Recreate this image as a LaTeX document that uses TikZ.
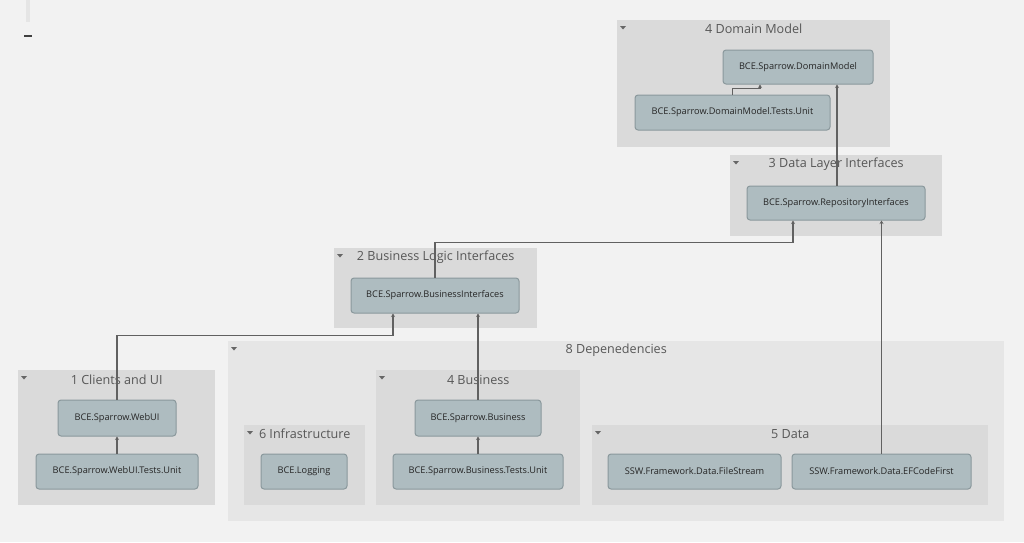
\documentclass[tikz,border=0pt]{standalone}
\usepackage{fontspec}
\setmainfont{Open Sans}
\usetikzlibrary{arrows.meta}
\definecolor{page}{HTML}{F2F2F2}
\definecolor{grpfill}{HTML}{DADADA}
\definecolor{outerfill}{HTML}{E6E6E6}
\definecolor{modfill}{HTML}{AEBCC0}
\definecolor{modline}{HTML}{8A989C}
\begin{document}
\begin{tikzpicture}[x=1pt,y=-1pt,
  grp/.style={fill=grpfill,anchor=north west,inner sep=0pt},
  outer/.style={fill=outerfill,anchor=north west,inner sep=0pt},
  title/.style={text=black!66,font=\fontsize{12.6}{14}\selectfont,inner sep=0pt},
  mod/.style={draw=modline,fill=modfill,rounded corners=3pt,line width=1pt,
    minimum height=35,inner sep=0pt,text=black!85,font=\fontsize{9.2}{11}\selectfont},
  dep/.style={draw=black!62,line width=1.1pt,-{Stealth[length=3.5pt,width=4pt]}}]
  \useasboundingbox[fill=page] (0,0) rectangle (1024,542);
  \fill[black!10] (26,0) rectangle (30,22);
  \fill[black!75] (24,35) rectangle (32,37);
  \node[outer,minimum width=776,minimum height=180] (gDeps) at (228,341) {};
  \node[grp,minimum width=273,minimum height=127] (gDomain) at (617,20) {};
  \node[grp,minimum width=212,minimum height=81] (gDataIf) at (730,155) {};
  \node[grp,minimum width=203,minimum height=80] (gBusIf) at (334,248) {};
  \node[grp,minimum width=197,minimum height=135] (gClients) at (18,370) {};
  \node[grp,minimum width=204,minimum height=135] (gBusiness) at (376,370) {};
  \node[grp,minimum width=121,minimum height=80] (gInfra) at (244,425) {};
  \node[grp,minimum width=396,minimum height=80] (gData) at (592,425) {};
  \foreach \g in {gDeps,gDomain,gDataIf,gBusIf,gClients,gBusiness,gInfra,gData}
    \fill[black!60] ([shift={(3,6)}]\g.north west) -- ++(6,0) -- ++(-3,3.5) -- cycle;
  \node[title] at ([yshift=-9]gDomain.north) {4 Domain Model};
  \node[title] at ([yshift=-9]gDataIf.north) {3 Data Layer Interfaces};
  \node[title] at ([yshift=-9]gBusIf.north) {2 Business Logic Interfaces};
  \node[title] at ([yshift=-9]gDeps.north) {8 Depenedencies};
  \node[title] at ([yshift=-10]gClients.north) {1 Clients and UI};
  \node[title] at ([yshift=-10]gBusiness.north) {4 Business};
  \node[title] at ([yshift=-9]gInfra.north) {6 Infrastructure};
  \node[title] at ([yshift=-9]gData.north) {5 Data};
  \node[mod,minimum width=150,minimum height=34] (dm) at (798,67) {BCE.Sparrow.DomainModel};
  \node[mod,minimum width=195] (dmt) at (732.5,112.5) {BCE.Sparrow.DomainModel.Tests.Unit};
  \node[mod,minimum width=178,minimum height=34] (repo) at (836,203) {BCE.Sparrow.RepositoryInterfaces};
  \node[mod,minimum width=168] (bi) at (435,295.5) {BCE.Sparrow.BusinessInterfaces};
  \node[mod,minimum width=118,minimum height=36] (web) at (117,418) {BCE.Sparrow.WebUI};
  \node[mod,minimum width=162] (webt) at (117,471.5) {BCE.Sparrow.WebUI.Tests.Unit};
  \node[mod,minimum width=126,minimum height=36] (bus) at (478,418) {BCE.Sparrow.Business};
  \node[mod,minimum width=170] (bust) at (478,471.5) {BCE.Sparrow.Business.Tests.Unit};
  \node[mod,minimum width=86] (log) at (304,471.5) {BCE.Logging};
  \node[mod,minimum width=173] (fs) at (694.5,471.5) {SSW.Framework.Data.FileStream};
  \node[mod,minimum width=179] (ef) at (881.5,471.5) {SSW.Framework.Data.EFCodeFirst};
  \draw[dep] (dmt.north) -- ++(0,-6) -| ([xshift=-38]dm.south);
  \draw[dep] ([xshift=1]repo.north) -- ([xshift=1]repo.north |- dm.south);
  \draw[dep] (bi.north) -- ++(0,-35) -| ([xshift=-43]repo.south);
  \draw[dep] (web.north) -- ++(0,-64) -| ([xshift=-42]bi.south);
  \draw[dep] (bus.north) -- (bi.south -| bus.north);
  \draw[dep] (ef.north) -- (repo.south -| ef.north);
  \draw[dep] (webt) -- (web);
  \draw[dep] (bust) -- (bus);
\end{tikzpicture}
\end{document}
